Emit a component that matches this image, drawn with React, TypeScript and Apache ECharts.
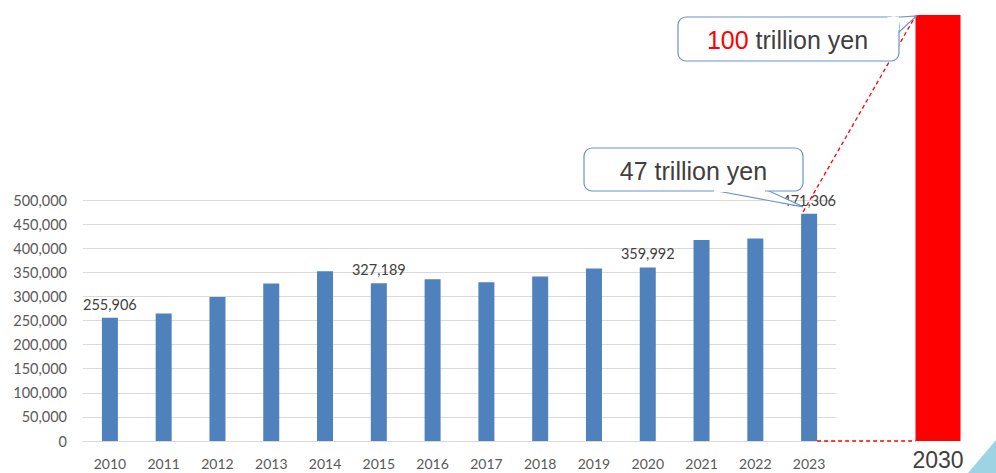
import React, { useEffect, useRef } from "react";
import * as echarts from "echarts";

const years = ["2010", "2011", "2012", "2013", "2014", "2015", "2016", "2017", "2018", "2019", "2020", "2021", "2022", "2023"];
const values = [255906, 264500, 299000, 326800, 352300, 327189, 335700, 329500, 341200, 357800, 359992, 417200, 420000, 471306];
const labeledYears = ["2010", "2015", "2020", "2023"];
const targetYear = ["2030"];
const targetValues = [1000000];
const callout2023 = { num: "47", unit: " trillion yen" };
const callout2030 = { num: "100", unit: " trillion yen" };

const BLUE = "#4f81bd";
const BORDER = "#6a93cc";

export default function App() {
  const ref = useRef<HTMLDivElement>(null);
  useEffect(() => {
    if (!ref.current) return;
    document.body.style.margin = "0";
    const chart = echarts.init(ref.current, undefined, { renderer: "svg" });
    const fmt = (v: number) => v.toLocaleString("en-US");
    const option: any = {
      animation: false,
      grid: [
        { left: 83, right: 160, top: 200, bottom: 32 },
        { left: 900, width: 76, top: 15, bottom: 32 },
      ],
      xAxis: [
        {
          type: "category",
          gridIndex: 0,
          data: years,
          axisLine: { lineStyle: { color: "#d9d9d9" } },
          axisTick: { show: false },
          axisLabel: { color: "#595959", fontFamily: "Lato", fontSize: 14, margin: 15 },
        },
        {
          type: "category",
          gridIndex: 1,
          data: targetYear,
          axisLine: { show: false },
          axisTick: { show: false },
          axisLabel: { color: "#404040", fontFamily: "Liberation Sans", fontSize: 23, margin: 7 },
        },
      ],
      yAxis: [
        {
          type: "value",
          gridIndex: 0,
          min: 0,
          max: 500000,
          interval: 50000,
          axisLine: { show: false },
          axisTick: { show: false },
          splitLine: { lineStyle: { color: "#d9d9d9" } },
          axisLabel: { color: "#595959", fontFamily: "Lato", fontSize: 14.5, margin: 16, formatter: (v: number) => fmt(v) },
        },
        {
          type: "value",
          gridIndex: 1,
          min: 0,
          max: 1000000,
          show: false,
          splitLine: { show: false },
        },
      ],
      series: [
        {
          type: "bar",
          xAxisIndex: 0,
          yAxisIndex: 0,
          barWidth: 16,
          itemStyle: { color: BLUE },
          data: values.map((v, i) => ({
            value: v,
            label: {
              show: labeledYears.includes(years[i]),
              position: "top",
              distance: 6,
              color: "#404040",
              fontFamily: "Lato",
              fontSize: 14.5,
              formatter: (p: any) => fmt(p.value),
            },
          })),
        },
        {
          type: "bar",
          xAxisIndex: 1,
          yAxisIndex: 1,
          barWidth: 45,
          itemStyle: { color: "#ff0000" },
          data: targetValues,
        },
      ],
    };
    chart.setOption(option);

    const last = years.length - 1;
    const top2023 = chart.convertToPixel({ gridIndex: 0 }, [last, values[last]]) as number[];
    const base2023 = chart.convertToPixel({ gridIndex: 0 }, [last, 0]) as number[];
    const t2030 = chart.convertToPixel({ gridIndex: 1 }, [0, targetValues[0]]) as number[];
    const b2030 = chart.convertToPixel({ gridIndex: 1 }, [0, 0]) as number[];
    const redLeft = t2030[0] - 22.5;
    const redTop = Math.max(t2030[1], 15);

    const dash = { stroke: "#ff0000", lineWidth: 1.3, lineDash: [4, 3] };

    const b1 = { x: 584, y: 148, w: 219, h: 43 };
    const b2 = { x: 678, y: 17, w: 221, h: 44 };

    chart.setOption({
      graphic: [
        {
          type: "line",
          shape: { x1: base2023[0] + 8, y1: base2023[1], x2: redLeft, y2: b2030[1] },
          style: dash,
          z: 10,
        },
        {
          type: "line",
          shape: { x1: top2023[0] - 6, y1: top2023[1] - 2, x2: redLeft, y2: redTop + 1 },
          style: dash,
          z: 10,
        },
        {
          type: "polygon",
          shape: { points: [[b1.x + 128, b1.y + b1.h - 1], [top2023[0] - 6, top2023[1] - 7], [b1.x + 183, b1.y + b1.h - 1]] },
          style: { fill: "#fff", stroke: BORDER, lineWidth: 1.2 },
          z: 20,
        },
        {
          type: "rect",
          shape: { x: b1.x, y: b1.y, width: b1.w, height: b1.h, r: 8 },
          style: { fill: "#fff", stroke: BORDER, lineWidth: 1.2 },
          z: 21,
        },
        {
          type: "line",
          shape: { x1: b1.x + 130, y1: b1.y + b1.h, x2: b1.x + 181, y2: b1.y + b1.h },
          style: { stroke: "#fff", lineWidth: 2 },
          z: 22,
        },
        {
          type: "text",
          x: b1.x + b1.w / 2,
          y: b1.y + b1.h / 2 + 1,
          style: {
            text: callout2023.num + callout2023.unit,
            fill: "#404040",
            font: "25px 'Liberation Sans', Arial, sans-serif",
            align: "center",
            verticalAlign: "middle",
          },
          z: 23,
        },
        {
          type: "polygon",
          shape: { points: [[b2.x + b2.w - 14, b2.y + 1], [redLeft + 1, redTop + 1], [b2.x + b2.w - 1, b2.y + 16]] },
          style: { fill: "#fff", stroke: BORDER, lineWidth: 1.2 },
          z: 20,
        },
        {
          type: "rect",
          shape: { x: b2.x, y: b2.y, width: b2.w, height: b2.h, r: 8 },
          style: { fill: "#fff", stroke: BORDER, lineWidth: 1.2 },
          z: 21,
        },
        {
          type: "polygon",
          shape: { points: [[b2.x + b2.w - 12, b2.y], [b2.x + b2.w, b2.y], [b2.x + b2.w, b2.y + 14]] },
          style: { fill: "#fff" },
          z: 22,
        },
        {
          type: "text",
          x: b2.x + b2.w / 2 - 1,
          y: b2.y + b2.h / 2 + 1,
          style: {
            text: "{r|" + callout2030.num + "}{d|" + callout2030.unit + "}",
            align: "center",
            verticalAlign: "middle",
            rich: {
              r: { fill: "#ff0000", font: "25px 'Liberation Sans', Arial, sans-serif" },
              d: { fill: "#404040", font: "25px 'Liberation Sans', Arial, sans-serif" },
            },
          },
          z: 23,
        },
        {
          type: "polygon",
          shape: { points: [[968, 473], [996, 440], [996, 473]] },
          style: { fill: "#9dd3e3" },
          z: 5,
        },
      ],
    });

    return () => chart.dispose();
  }, []);
  return <div ref={ref} style={{ width: 996, height: 473 }} />;
}
